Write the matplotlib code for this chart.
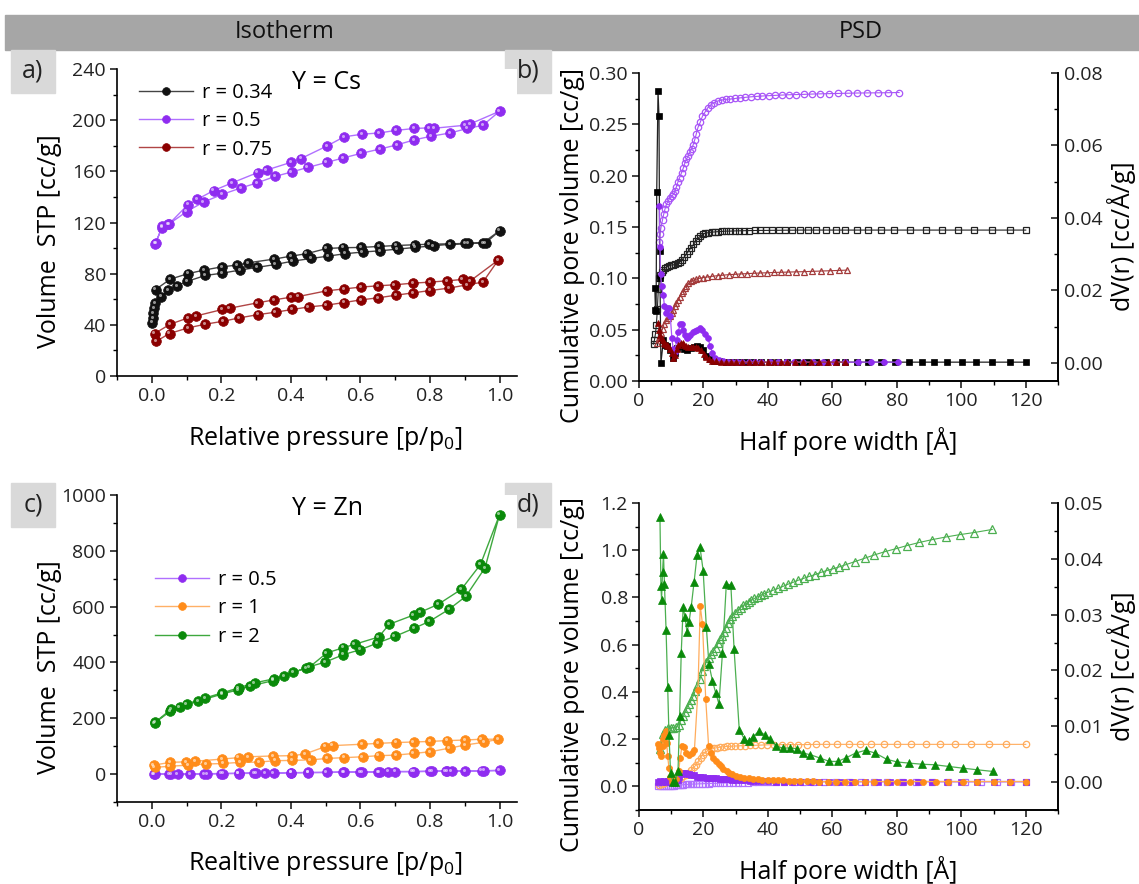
import matplotlib
matplotlib.use("Agg")
import matplotlib.pyplot as plt
import numpy as np
from matplotlib.patches import Rectangle
from matplotlib.ticker import MultipleLocator, FormatStrFormatter
from matplotlib.transforms import offset_copy

plt.rcParams["font.family"] = ["Open Sans", "DejaVu Sans"]
plt.rcParams["mathtext.fontset"] = "custom"
plt.rcParams["mathtext.rm"] = "Open Sans"

# ---------------- isotherms, Y = Cs (panel a) ----------------
cs034_ads_p = [0.0, 0.003, 0.004, 0.006, 0.009, 0.026, 0.048, 0.072, 0.102, 0.154, 0.203, 0.253, 0.303, 0.356,
               0.405, 0.459, 0.506, 0.556, 0.606, 0.657, 0.707, 0.757, 0.81, 0.858, 0.91, 0.96, 1.0]
cs034_ads_v = [41.8, 45.4, 49.3, 53.0, 56.7, 62.0, 67.0, 70.5, 74.0, 78.6, 80.4, 82.8, 84.9, 87.2,
               89.8, 91.9, 93.7, 95.6, 96.9, 97.9, 99.2, 100.5, 101.8, 103.0, 103.6, 104.0, 113.6]
cs034_des_p = [0.952, 0.90, 0.798, 0.756, 0.702, 0.654, 0.601, 0.551, 0.503, 0.445, 0.40, 0.352, 0.277, 0.245,
               0.203, 0.15, 0.104, 0.053, 0.011]
cs034_des_v = [104.0, 103.6, 103.0, 102.6, 102.0, 101.3, 100.5, 100.3, 99.7, 95.6, 93.7, 91.4, 88.5, 86.7,
               85.4, 82.8, 80.0, 75.7, 67.6]

cs05_ads_p = [0.01, 0.029, 0.048, 0.10, 0.149, 0.203, 0.256, 0.303, 0.354, 0.402, 0.448, 0.503, 0.551, 0.601,
              0.657, 0.705, 0.755, 0.804, 0.858, 0.907, 0.952, 1.0]
cs05_ads_v = [103.5, 116, 118.5, 128.5, 136, 142, 147, 151, 156, 159.5, 163, 167, 170.5, 174,
              177.5, 180.7, 184.6, 187.5, 190, 193.5, 196, 207]
cs05_des_p = [0.915, 0.90, 0.812, 0.798, 0.754, 0.702, 0.654, 0.604, 0.553, 0.505, 0.429, 0.40, 0.33, 0.304,
              0.231, 0.178, 0.13, 0.104, 0.05, 0.03, 0.012]
cs05_des_v = [197, 196, 193.7, 194, 193.5, 192, 190, 189, 187, 180, 170, 167, 161, 159,
              151, 145, 138, 134, 119, 117, 104]

cs075_ads_p = [0.013, 0.051, 0.104, 0.154, 0.205, 0.251, 0.306, 0.356, 0.404, 0.451, 0.503, 0.552, 0.601, 0.65,
               0.703, 0.751, 0.80, 0.854, 0.907, 0.952, 0.996]
cs075_ads_v = [27.2, 33.2, 37.6, 40.5, 42.8, 45.4, 48.0, 49.9, 52.0, 54.0, 55.4, 57.4, 59.5, 61.1,
               63.2, 65.0, 66.8, 68.7, 71.3, 73.4, 90.6]
cs075_des_p = [0.916, 0.894, 0.849, 0.80, 0.752, 0.698, 0.65, 0.601, 0.554, 0.503, 0.421, 0.40, 0.351, 0.304,
               0.224, 0.203, 0.128, 0.104, 0.053, 0.008]
cs075_des_v = [74.4, 75.5, 74.4, 73.4, 72.6, 71.3, 70.5, 69.5, 68.1, 66.6, 62.1, 61.6, 59.5, 57.2,
               53.0, 52.0, 47.0, 45.4, 40.5, 33.2]

# ---------------- isotherms, Y = Zn (panel c) ----------------
zn05_ads_p = [0.008, 0.05, 0.074, 0.11, 0.16, 0.205, 0.25, 0.30, 0.35, 0.40, 0.45, 0.503, 0.554, 0.604,
              0.655, 0.70, 0.755, 0.805, 0.85, 0.90, 0.955, 1.0]
zn05_ads_v = [0, 0, 0, 0, 1, 2, 3, 4, 4, 5, 6, 6, 7, 8, 8, 9, 9, 10, 10, 11, 12, 13]
zn05_des_p = [0.948, 0.862, 0.845, 0.80, 0.75, 0.68, 0.65, 0.60, 0.55, 0.45, 0.40, 0.325, 0.295, 0.25,
              0.20, 0.15, 0.055, 0.005]
zn05_des_v = [12, 11, 11, 10, 9, 9, 8, 7, 7, 5, 5, 4, 3, 2, 2, 1, 0, 0]

zn1_ads_p = [0.008, 0.051, 0.104, 0.157, 0.205, 0.253, 0.308, 0.354, 0.404, 0.457, 0.504, 0.554, 0.606, 0.652,
             0.702, 0.753, 0.80, 0.856, 0.90, 0.955, 0.996]
zn1_ads_v = [24, 28, 32, 36, 38, 42, 43, 48, 49, 51, 56, 59, 62, 66, 68, 74, 80, 93, 104, 114, 125]
zn1_des_p = [0.948, 0.90, 0.849, 0.80, 0.753, 0.702, 0.65, 0.604, 0.52, 0.498, 0.44, 0.404, 0.349, 0.277,
             0.25, 0.203, 0.125, 0.099, 0.053, 0.005]
zn1_des_v = [125, 122, 120, 117, 115, 113, 110, 107, 102, 98, 72, 66, 65, 62, 59, 54, 46, 44, 42, 32]

zn2_ads_p = [0.008, 0.053, 0.08, 0.133, 0.203, 0.248, 0.282, 0.349, 0.38, 0.443, 0.498, 0.551, 0.6, 0.648,
             0.698, 0.755, 0.798, 0.854, 0.903, 0.958, 1.0]
zn2_ads_v = [183, 225, 240, 261, 287, 302, 315, 335, 350, 381, 401, 428, 446, 469, 493, 523, 547, 590, 637, 739, 930]
zn2_des_p = [0.945, 0.89, 0.823, 0.772, 0.753, 0.683, 0.652, 0.583, 0.551, 0.503, 0.453, 0.407, 0.35, 0.296,
             0.25, 0.202, 0.154, 0.10, 0.056, 0.01]
zn2_des_v = [751, 662, 608, 580, 570, 537, 491, 465, 453, 434, 383, 365, 341, 327, 309, 291, 273, 251, 233, 186]

# ---------------- PSD, Y = Cs (panel b) ----------------
cs034_cum_r = [4.5, 4.8, 5.1, 5.4, 5.7, 6.0, 6.3, 6.6, 7.0, 7.5, 8.0, 8.6, 9.2, 9.9, 10.6, 11.3, 12.0, 12.7, 13.4,
               14.1, 14.8, 15.5, 16.2, 16.9, 17.6, 18.3, 19.0, 19.8, 20.6, 21.5, 22.5, 23.5, 24.6, 25.8, 27.0, 28.3,
               29.7, 31.1, 32.6, 34.2, 35.9, 37.6, 39.4, 41.3, 43.3, 45.4, 47.6, 50.0, 52.5, 55.0, 58.0, 61.0, 64.0,
               67.5, 71.0, 75.0, 79.0, 84.0, 89.0, 94.0, 99.0, 104.0, 109.6, 115.0, 120.0]
cs034_cum_v = [0.036, 0.040, 0.046, 0.055, 0.070, 0.090, 0.100, 0.103, 0.106, 0.108, 0.110, 0.111, 0.112, 0.113,
               0.113, 0.114, 0.115, 0.116, 0.118, 0.121, 0.124, 0.127, 0.130, 0.133, 0.136, 0.139, 0.141, 0.143,
               0.144, 0.1445, 0.145, 0.1452, 0.1455, 0.1457, 0.146, 0.146, 0.1462, 0.1463, 0.1464, 0.1465, 0.1466,
               0.1467, 0.1467, 0.1468, 0.1468, 0.1469, 0.1469, 0.147, 0.147, 0.147, 0.147, 0.147, 0.147, 0.147,
               0.147, 0.147, 0.147, 0.147, 0.147, 0.147, 0.147, 0.147, 0.147, 0.147, 0.147]
cs034_dv_r = [4.9, 5.1, 5.3, 5.5, 5.9, 6.2, 6.4, 6.5, 6.8, 7.6, 8.1, 8.8, 9.5, 10.4, 11.1, 11.9, 13.0, 14.0, 15.0,
              16.1, 17.1, 18.1, 19.0, 19.9, 20.9, 22.0, 23.3, 24.9, 27.0, 29.0, 31.0, 33.0, 35.5, 38.0, 40.5, 43.0,
              46.0, 49.0, 52.0, 55.0, 58.0, 61.0, 64.0, 67.5, 71.0, 75.0, 79.5, 83.8, 87.8, 91.5, 95.7, 100.1, 104.7,
              109.6, 115.1, 120.0]
cs034_dv_v = [0.0208, 0.0146, 0.0143, 0.0472, 0.0749, 0.0681, 0.0310, 0.0234, 0.0000, 0.0064, 0.0050, 0.0047,
              0.0035, 0.0013, 0.0027, 0.0041, 0.0047, 0.0038, 0.0035, 0.0041, 0.0044, 0.0047, 0.0044, 0.0035,
              0.0018, 0.0010, 0.0006, 0.0004, 0.0002, 0.0002, 0.0002, 0.0002, 0.0002, 0.0002, 0.0002, 0.0002,
              0.0002, 0.0002, 0.0002, 0.0002, 0.0002, 0.0002, 0.0002, 0.0002, 0.0002, 0.0002, 0.0002, 0.0002,
              0.0002, 0.0002, 0.0002, 0.0002, 0.0002, 0.0002, 0.0002, 0.0002]

cs05_cum_r = [6.3, 6.5, 6.8, 7.3, 7.7, 8.1, 8.5, 9.0, 9.5, 10.1, 10.7, 11.2, 11.6, 12.1, 12.6, 13.2, 13.7, 14.2,
              14.7, 15.2, 15.8, 16.3, 16.8, 17.3, 17.8, 18.3, 19.0, 19.7, 20.5, 21.3, 22.3, 23.3, 24.4, 25.6, 26.9,
              28.3, 29.8, 31.4, 33.0, 34.7, 36.5, 38.3, 40.2, 42.2, 44.3, 46.5, 48.8, 51.2, 53.7, 56.3, 59.0, 61.8,
              64.7, 67.7, 70.8, 74.0, 77.3, 80.7]
cs05_cum_v = [0.135, 0.143, 0.149, 0.157, 0.163, 0.168, 0.172, 0.175, 0.178, 0.180, 0.182, 0.185, 0.189, 0.194,
              0.198, 0.203, 0.207, 0.212, 0.216, 0.219, 0.223, 0.226, 0.230, 0.235, 0.241, 0.247, 0.252, 0.258,
              0.262, 0.266, 0.269, 0.271, 0.2727, 0.2736, 0.2743, 0.2746, 0.2752, 0.2758, 0.2763, 0.2768, 0.2772,
              0.2776, 0.2779, 0.2782, 0.2785, 0.2788, 0.279, 0.2792, 0.2795, 0.2797, 0.2799, 0.2801, 0.2803,
              0.2805, 0.2806, 0.2807, 0.2808, 0.281]
cs05_dv_r = [6.3, 6.5, 6.7, 7.0, 7.5, 7.9, 8.3, 8.8, 9.3, 9.7, 10.2, 10.6, 11.1, 11.7, 12.2, 12.7, 13.3, 13.8, 14.3,
             14.8, 15.3, 15.9, 16.6, 17.3, 18.0, 18.9, 19.7, 20.5, 21.3, 22.1, 22.8, 23.6, 24.7, 26.0, 27.5, 29.0,
             30.5, 32.0, 34.0, 36.0, 38.0, 40.5, 43.0, 45.5, 48.0, 51.0, 54.0, 57.0, 60.5, 64.0, 68.0, 72.0, 76.0,
             80.5]
cs05_dv_v = [0.0432, 0.0321, 0.0245, 0.0211, 0.0188, 0.0157, 0.0137, 0.0152, 0.0152, 0.0129, 0.0069, 0.0038,
             0.0030, 0.0064, 0.0086, 0.0106, 0.0106, 0.0092, 0.0078, 0.0069, 0.0072, 0.0078, 0.0084, 0.0089,
             0.0092, 0.0095, 0.0092, 0.0081, 0.0069, 0.0047, 0.0027, 0.0013, 0.0007, 0.0004, 0.0003, 0.0002,
             0.0002, 0.0002, 0.0002, 0.0002, 0.0002, 0.0002, 0.0002, 0.0002, 0.0002, 0.0002, 0.0002, 0.0002,
             0.0002, 0.0002, 0.0002, 0.0002, 0.0002, 0.0002]

cs075_cum_r = [5.7, 6.2, 6.7, 7.3, 7.8, 8.3, 9.0, 9.5, 10.1, 10.6, 11.1, 11.6, 12.1, 12.6, 13.2, 13.7, 14.2, 14.7,
               15.3, 16.0, 16.8, 17.6, 18.7, 19.9, 21.2, 22.8, 24.4, 25.9, 27.8, 29.8, 31.7, 33.6, 35.6, 37.6, 39.7,
               41.8, 44.0, 46.3, 48.7, 51.2, 53.8, 56.5, 59.3, 62.0, 64.5]
cs075_cum_v = [0.037, 0.042, 0.047, 0.051, 0.056, 0.059, 0.061, 0.0635, 0.066, 0.069, 0.073, 0.076, 0.079, 0.082,
               0.086, 0.088, 0.091, 0.093, 0.095, 0.097, 0.098, 0.099, 0.100, 0.1007, 0.1013, 0.102, 0.1026, 0.103,
               0.1036, 0.1039, 0.1043, 0.1046, 0.1049, 0.1052, 0.1054, 0.1057, 0.1059, 0.1061, 0.1063, 0.1065,
               0.1068, 0.1071, 0.1074, 0.1077, 0.108]
cs075_dv_r = [6.0, 6.3, 6.6, 6.9, 7.3, 7.7, 8.1, 8.6, 9.1, 9.6, 10.2, 10.7, 11.2, 11.7, 12.2, 12.9, 13.5, 14.1, 14.7,
              15.3, 16.1, 16.8, 17.6, 18.4, 19.3, 20.1, 20.9, 21.8, 22.8, 24.0, 25.5, 27.0, 28.5, 30.0, 32.0, 34.0,
              36.0, 38.0, 40.0, 42.0, 44.0, 46.0, 48.5, 51.0, 53.5, 56.0, 58.5, 61.0, 64.0]
cs075_dv_v = [0.0109, 0.0092, 0.0078, 0.0069, 0.0064, 0.0055, 0.0052, 0.0050, 0.0047, 0.0038, 0.0027, 0.0013,
              0.0021, 0.0038, 0.0050, 0.0055, 0.0055, 0.0050, 0.0047, 0.0044, 0.0044, 0.0044, 0.0044, 0.0041,
              0.0035, 0.0024, 0.0016, 0.0010, 0.0006, 0.0004, 0.0002, 0.0002, 0.0002, 0.0002, 0.0002, 0.0002,
              0.0002, 0.0002, 0.0002, 0.0002, 0.0002, 0.0002, 0.0002, 0.0002, 0.0002, 0.0002, 0.0002, 0.0002,
              0.0002]

# ---------------- PSD, Y = Zn (panel d) ----------------
zn05_cum_r = [6.0, 6.6, 7.2, 7.8, 8.4, 9.0, 9.6, 10.2, 10.8, 11.4, 12.0, 12.6, 13.2, 13.8, 14.5, 15.2, 16.0, 16.8,
              17.7, 18.6, 19.6, 20.6, 21.7, 22.8, 24.0, 25.2, 26.5, 27.8, 29.2, 30.6, 32.1, 33.7, 35.3, 37.0, 38.8,
              40.6, 42.5, 45.0, 48.0, 51.0, 54.0, 57.5, 61.0, 65.0, 69.0, 73.0, 77.0, 81.5, 86.0, 91.0, 96.0, 101.0,
              106.0, 111.0, 115.5, 120.0]
zn05_cum_v = [0.000, 0.001, 0.001, 0.002, 0.002, 0.002, 0.003, 0.003, 0.003, 0.004, 0.004, 0.005, 0.006, 0.007,
              0.008, 0.008, 0.009, 0.010, 0.010, 0.011, 0.011, 0.012, 0.012, 0.013, 0.013, 0.014, 0.014, 0.015,
              0.015, 0.016, 0.016, 0.016, 0.017, 0.017, 0.017, 0.018, 0.018, 0.018, 0.018, 0.018, 0.019, 0.019,
              0.019, 0.019, 0.019, 0.019, 0.019, 0.019, 0.019, 0.019, 0.019, 0.019, 0.019, 0.019, 0.019, 0.019]
zn05_dv_r = [6.0, 6.6, 7.2, 7.8, 8.4, 9.0, 9.6, 10.2, 10.8, 11.4, 12.0, 12.5, 13.0, 13.6, 14.2, 14.8, 15.5, 16.2,
             17.0, 18.0, 19.0, 20.0, 21.0, 22.0, 23.0, 24.0, 25.0, 26.0, 27.0, 28.0, 29.0, 30.0, 31.5, 33.0, 34.5,
             36.0, 38.0, 40.0, 42.5, 45.0, 47.5, 50.0, 53.0, 56.0, 59.0, 62.5, 66.0, 70.0, 74.0, 78.0, 82.0, 86.5,
             91.0, 95.5, 100.0, 105.0, 110.0, 115.0, 120.0]
zn05_dv_v = [0.0001, 0.0002, 0.0001, 0.0002, 0.0001, 0.0002, 0.0001, 0.0002, 0.0002, 0.0003, 0.0004, 0.0009,
             0.0014, 0.0017, 0.0016, 0.0015, 0.0014, 0.0013, 0.0012, 0.0010, 0.0010, 0.0009, 0.0008, 0.0008,
             0.0007, 0.0007, 0.0006, 0.0006, 0.0005, 0.0005, 0.0004, 0.0004, 0.0003, 0.0003, 0.0002, 0.0002,
             0.0002, 0.0002, 0.0001, 0.0001, 0.0001, 0.0001, 0.0001, 0.0001, 0.0001, 0.0001, 0.0001, 0.0001,
             0.0001, 0.0001, 0.0001, 0.0001, 0.0001, 0.0001, 0.0001, 0.0001, 0.0001, 0.0001, 0.0001]

zn1_cum_r = [6.3, 7.0, 7.7, 8.4, 9.1, 9.8, 10.6, 11.4, 12.2, 13.0, 13.8, 14.6, 15.4, 16.2, 17.0, 17.7, 18.4, 19.1,
             19.8, 20.6, 21.4, 22.3, 23.2, 24.2, 25.2, 26.3, 27.4, 28.6, 29.9, 31.3, 32.8, 34.4, 36.1, 37.9, 39.8,
             42.0, 44.3, 46.7, 49.3, 52.0, 55.0, 58.0, 61.5, 65.0, 68.5, 72.0, 76.0, 80.0, 84.5, 89.0, 93.5, 98.0,
             103.0, 108.5, 114.0, 120.0]
zn1_cum_v = [0.005, 0.010, 0.015, 0.020, 0.023, 0.025, 0.027, 0.029, 0.032, 0.037, 0.043, 0.050, 0.058, 0.068,
             0.080, 0.092, 0.106, 0.122, 0.135, 0.145, 0.152, 0.157, 0.161, 0.164, 0.166, 0.168, 0.169, 0.170,
             0.171, 0.172, 0.173, 0.174, 0.174, 0.175, 0.176, 0.176, 0.177, 0.177, 0.177, 0.177, 0.178, 0.178,
             0.178, 0.178, 0.178, 0.178, 0.178, 0.178, 0.178, 0.178, 0.178, 0.178, 0.178, 0.178, 0.178, 0.178]
zn1_dv_r = [6.0, 6.3, 6.6, 6.9, 7.3, 7.6, 7.9, 8.3, 8.6, 8.9, 9.3, 9.7, 10.2, 10.9, 11.6, 12.3, 12.8, 13.3, 14.0,
            14.7, 15.5, 16.4, 17.2, 18.3, 19.0, 19.7, 20.7, 21.6, 22.3, 23.0, 23.8, 24.7, 25.4, 26.2, 27.2, 28.0,
            29.0, 30.0, 31.3, 32.6, 34.0, 35.4, 36.9, 38.3, 39.9, 41.5, 43.0, 44.7, 46.4, 48.2, 50.0, 52.0, 54.0,
            56.0, 58.5, 61.0, 64.0, 67.0, 70.0, 73.0, 77.0, 80.0, 84.0, 88.0, 92.0, 96.0, 100.5, 105.0, 110.0,
            115.0, 120.0]
zn1_dv_v = [0.0069, 0.0061, 0.0052, 0.0046, 0.0064, 0.0077, 0.0085, 0.0091, 0.0070, 0.0046, 0.0025, 0.0010,
            0.0001, 0.0001, 0.0005, 0.0020, 0.0043, 0.0064, 0.0063, 0.0052, 0.0049, 0.0052, 0.0058, 0.0165,
            0.0316, 0.0283, 0.0149, 0.0064, 0.0052, 0.0043, 0.0037, 0.0033, 0.0028, 0.0024, 0.0019, 0.0016,
            0.0014, 0.0011, 0.0009, 0.0007, 0.0007, 0.0005, 0.0005, 0.0004, 0.0004, 0.0003, 0.0003, 0.0003,
            0.0002, 0.0002, 0.0002, 0.0002, 0.0002, 0.0001, 0.0001, 0.0001, 0.0001, 0.0001, 0.0001, 0.0001,
            0.0001, 0.0001, 0.0001, 0.0001, 0.0001, 0.0001, 0.0001, 0.0001, 0.0001, 0.0001, 0.0001]

zn2_cum_r = [6.6, 7.1, 7.6, 8.2, 9.0, 9.8, 10.6, 11.5, 12.3, 13.0, 13.7, 14.3, 14.9, 15.5, 16.2, 16.8, 17.4, 18.1,
             18.9, 19.5, 20.2, 20.9, 21.7, 22.4, 23.1, 23.8, 24.5, 25.1, 25.7, 26.3, 26.9, 27.6, 28.3, 29.0, 29.8,
             30.7, 31.5, 32.3, 33.2, 34.0, 34.9, 35.8, 36.8, 37.8, 38.9, 40.0, 41.5, 43.1, 44.7, 46.2, 47.8, 49.4,
             51.1, 52.8, 54.6, 56.4, 58.2, 60.1, 62.0, 64.0, 67.0, 70.0, 73.0, 76.3, 79.6, 83.2, 87.0, 91.0, 95.2,
             99.5, 104.0, 109.6]
zn2_cum_v = [0.160, 0.190, 0.220, 0.240, 0.248, 0.248, 0.248, 0.252, 0.262, 0.280, 0.297, 0.314, 0.333, 0.350,
             0.365, 0.382, 0.403, 0.425, 0.453, 0.488, 0.510, 0.527, 0.545, 0.559, 0.573, 0.587, 0.606, 0.623,
             0.637, 0.655, 0.672, 0.692, 0.708, 0.722, 0.735, 0.748, 0.757, 0.766, 0.774, 0.781, 0.789, 0.796,
             0.803, 0.810, 0.816, 0.822, 0.830, 0.838, 0.847, 0.856, 0.864, 0.873, 0.881, 0.889, 0.897, 0.906,
             0.914, 0.921, 0.929, 0.938, 0.952, 0.966, 0.980, 0.994, 1.006, 1.020, 1.033, 1.045, 1.056, 1.066,
             1.075, 1.088]
zn2_dv_r = [6.5, 6.8, 7.0, 7.3, 7.6, 7.9, 8.4, 8.9, 9.3, 9.8, 10.5, 11.3, 12.1, 12.6, 13.1, 13.7, 14.3, 14.9, 15.5,
            16.2, 17.1, 18.0, 18.9, 19.9, 20.9, 21.7, 22.8, 23.8, 24.8, 25.9, 27.1, 28.5, 29.5, 31.1, 32.7, 34.0,
            35.3, 37.2, 39.0, 40.7, 42.6, 44.7, 46.8, 48.9, 50.9, 53.2, 56.2, 59.1, 61.6, 64.1, 67.2, 70.3, 73.3,
            76.8, 80.1, 83.8, 87.8, 91.8, 96.1, 100.4, 105.0, 109.9]
zn2_dv_v = [0.0475, 0.0351, 0.0327, 0.0377, 0.0408, 0.0354, 0.0272, 0.0170, 0.0085, 0.0016, 0.0001, 0.0001,
            0.0019, 0.0119, 0.0231, 0.0313, 0.0295, 0.0268, 0.0286, 0.0314, 0.0359, 0.0406, 0.0422, 0.0379,
            0.0277, 0.0211, 0.0181, 0.0160, 0.0140, 0.0232, 0.0355, 0.0353, 0.0238, 0.0094, 0.0077, 0.0073,
            0.0081, 0.0091, 0.0085, 0.0077, 0.0064, 0.0061, 0.0061, 0.0060, 0.0052, 0.0049, 0.0043, 0.0037,
            0.0037, 0.0043, 0.0052, 0.0057, 0.0052, 0.0041, 0.0036, 0.0034, 0.0032, 0.0031, 0.0028, 0.0025,
            0.0022, 0.0019]

BLACK = "#000000"
PURPLE = "#8f2cf0"
DKRED = "#8b0000"
GREEN = "#0a8a0a"
ORANGE = "#ff8c1a"

TICK_FS = 14
LABEL_FS = 18

fig = plt.figure(figsize=(11.39, 8.84), dpi=100)
W, H = 1139.0, 884.0


def fig_axes(x0, y_top, x1, y_bot):
    return fig.add_axes([x0 / W, 1 - y_bot / H, (x1 - x0) / W, (y_bot - y_top) / H])


def style_axis(ax, right=False):
    ax.spines["top"].set_visible(False)
    if not right:
        ax.spines["right"].set_visible(False)
    for s in ax.spines.values():
        s.set_linewidth(1.2)
    ax.tick_params(which="major", direction="out", length=5, width=1.2, labelsize=TICK_FS,
                   colors="#222222", pad=3)
    ax.tick_params(which="minor", direction="out", length=3, width=1.0)


def ball_iso(ax, ads_p, ads_v, des_p, des_v, color, line, label):
    p = list(ads_p) + list(des_p)
    v = list(ads_v) + list(des_v)
    ax.plot(p, v, "-", color=line, lw=1.0, marker="o", ms=7, mfc=color, mec=color, mew=0.5, label=label, zorder=3)
    hl = offset_copy(ax.transData, fig=fig, x=-0.9, y=0.9, units="points")
    ax.plot(p, v, "o", ms=2.2, color="white", alpha=0.55, mew=0, transform=hl, zorder=4)


def panel_box(x0, y0, x1, y1, text):
    fig.add_artist(Rectangle((x0 / W, 1 - y1 / H), (x1 - x0) / W, (y1 - y0) / H,
                             transform=fig.transFigure, color="#d9d9d9", zorder=0))
    fig.text((x0 + x1) / 2 / W, 1 - (y0 + y1) / 2 / H, text, ha="center", va="center", fontsize=18, color="#222222")


# header band
fig.add_artist(Rectangle((5 / W, 1 - 50 / H), 1134 / W, 35 / H, transform=fig.transFigure, color="#a6a6a6", zorder=0))
fig.text(285 / W, 1 - 32 / H, "Isotherm", ha="center", va="center", fontsize=17, color="#111111")
fig.text(861 / W, 1 - 32 / H, "PSD", ha="center", va="center", fontsize=17, color="#111111")
panel_box(11, 50, 55, 93, "a)")
panel_box(505, 50, 551, 93, "b)")
panel_box(11, 483, 55, 527, "c)")
panel_box(505, 483, 551, 527, "d)")

# ---- panel a ----
ax = fig_axes(117, 69, 517, 376)
style_axis(ax)
ball_iso(ax, cs034_ads_p, cs034_ads_v, cs034_des_p, cs034_des_v, "#111111", "#444444", "r = 0.34")
ball_iso(ax, cs05_ads_p, cs05_ads_v, cs05_des_p, cs05_des_v, PURPLE, "#b070ff", "r = 0.5")
ball_iso(ax, cs075_ads_p, cs075_ads_v, cs075_des_p, cs075_des_v, DKRED, "#b04545", "r = 0.75")
ax.set_xlim(-0.1, 1.05)
ax.set_ylim(0, 240)
ax.xaxis.set_major_locator(MultipleLocator(0.2))
ax.xaxis.set_minor_locator(MultipleLocator(0.1))
ax.yaxis.set_major_locator(MultipleLocator(40))
ax.yaxis.set_minor_locator(MultipleLocator(20))
ax.xaxis.set_major_formatter(FormatStrFormatter("%.1f"))
ax.set_xlabel(r"Relative pressure [p/p$_\mathregular{0}$]", fontsize=LABEL_FS)
ax.set_ylabel("Volume  STP [cc/g]", fontsize=LABEL_FS)
ax.xaxis.set_label_coords(0.52, -0.155)
ax.yaxis.set_label_coords(-0.138, 0.44)
ax.text(0.525, 0.955, "Y = Cs", transform=ax.transAxes, ha="center", va="center", fontsize=18)
ax.legend(loc="upper left", bbox_to_anchor=(0.025, 0.995), frameon=False, fontsize=14.5, handlelength=2.7,
          handletextpad=0.4, labelspacing=0.42, borderaxespad=0.2, markerscale=0.8)

# ---- panel c ----
ax = fig_axes(117, 495, 517, 802)
style_axis(ax)
ball_iso(ax, zn05_ads_p, zn05_ads_v, zn05_des_p, zn05_des_v, PURPLE, "#b070ff", "r = 0.5")
ball_iso(ax, zn1_ads_p, zn1_ads_v, zn1_des_p, zn1_des_v, ORANGE, "#ffb066", "r = 1")
ball_iso(ax, zn2_ads_p, zn2_ads_v, zn2_des_p, zn2_des_v, GREEN, "#3ea83e", "r = 2")
ax.set_xlim(-0.1, 1.05)
ax.set_ylim(-100, 1000)
ax.xaxis.set_major_locator(MultipleLocator(0.2))
ax.xaxis.set_minor_locator(MultipleLocator(0.1))
ax.yaxis.set_major_locator(MultipleLocator(200))
ax.yaxis.set_minor_locator(MultipleLocator(100))
ax.xaxis.set_major_formatter(FormatStrFormatter("%.1f"))
ax.set_xlabel(r"Realtive pressure [p/p$_\mathregular{0}$]", fontsize=LABEL_FS)
ax.set_ylabel("Volume  STP [cc/g]", fontsize=LABEL_FS)
ax.xaxis.set_label_coords(0.52, -0.153)
ax.yaxis.set_label_coords(-0.138, 0.44)
ax.text(0.525, 0.955, "Y = Zn", transform=ax.transAxes, ha="center", va="center", fontsize=18)
ax.legend(loc="upper left", bbox_to_anchor=(0.065, 0.795), frameon=False, fontsize=14.5, handlelength=2.7,
          handletextpad=0.4, labelspacing=0.42, borderaxespad=0.2, markerscale=0.8)


def psd_panel(y_top, y_bot, series, ylim_l, ylim_r, lmaj, lmin, rmaj, rmin, lfmt, rfmt):
    ax = fig_axes(639, y_top, 1058, y_bot)
    style_axis(ax, right=True)
    axr = ax.twinx()
    style_axis(axr, right=True)
    axr.spines["left"].set_visible(False)
    # the right-hand axis has its ticks pointing inwards
    axr.tick_params(which="both", direction="in", pad=4)
    for r, v, rr, vv, col, lcol, mk, ms_c, ms_d in series:
        ax.plot(r, v, "-", color=lcol, lw=0.8, marker=mk, ms=ms_c, mfc="none", mec=lcol, mew=0.9, zorder=3)
        axr.plot(rr, vv, "-", color=lcol, lw=0.9, marker=mk, ms=ms_d, mfc=col, mec=col, mew=0.5, zorder=4)
    ax.set_xlim(0, 130)
    ax.set_ylim(*ylim_l)
    axr.set_ylim(*ylim_r)
    ax.set_xticks([0, 20, 40, 60, 80, 100, 120])
    ax.xaxis.set_minor_locator(MultipleLocator(10))
    ax.yaxis.set_major_locator(MultipleLocator(lmaj))
    ax.yaxis.set_minor_locator(MultipleLocator(lmin))
    axr.yaxis.set_major_locator(MultipleLocator(rmaj))
    axr.yaxis.set_minor_locator(MultipleLocator(rmin))
    ax.yaxis.set_major_formatter(FormatStrFormatter(lfmt))
    axr.yaxis.set_major_formatter(FormatStrFormatter(rfmt))
    ax.set_xlabel("Half pore width [Å]", fontsize=LABEL_FS)
    ax.set_ylabel("Cumulative pore volume [cc/g]", fontsize=LABEL_FS)
    axr.set_ylabel("dV(r) [cc/Å/g]", fontsize=LABEL_FS)
    ax.xaxis.set_label_coords(0.5, -0.15)
    ax.yaxis.set_label_coords(-0.128, 0.44)
    axr.yaxis.set_label_coords(1.118, 0.47)
    return ax


# ---- panel b ----
psd_panel(73, 381,
          [(cs034_cum_r, cs034_cum_v, cs034_dv_r, cs034_dv_v, BLACK, "#222222", "s", 4.2, 4.0),
           (cs05_cum_r, cs05_cum_v, cs05_dv_r, cs05_dv_v, PURPLE, "#a855f7", "o", 4.6, 4.2),
           (cs075_cum_r, cs075_cum_v, cs075_dv_r, cs075_dv_v, DKRED, "#a33a3a", "^", 5.0, 4.6)],
          (0, 0.30), (-0.005, 0.08), 0.05, 0.025, 0.02, 0.01, "%.2f", "%.2f")

# ---- panel d ----
psd_panel(503, 810,
          [(zn05_cum_r, zn05_cum_v, zn05_dv_r, zn05_dv_v, PURPLE, "#b070ff", "s", 4.0, 4.0),
           (zn1_cum_r, zn1_cum_v, zn1_dv_r, zn1_dv_v, ORANGE, "#ffac5c", "o", 4.6, 4.4),
           (zn2_cum_r, zn2_cum_v, zn2_dv_r, zn2_dv_v, GREEN, "#4caf50", "^", 5.4, 5.6)],
          (-0.1, 1.2), (-0.005, 0.05), 0.2, 0.1, 0.01, 0.005, "%.1f", "%.2f")

fig.savefig("out.png", dpi=100)
